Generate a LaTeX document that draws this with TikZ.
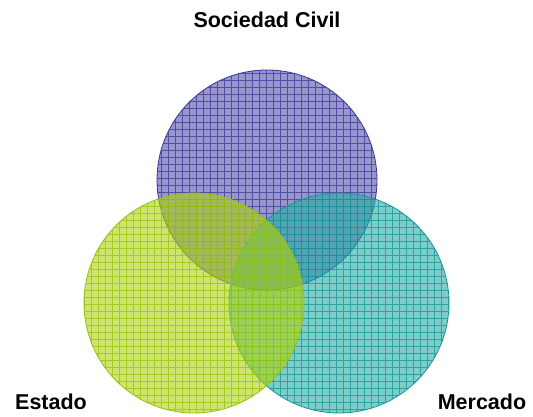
\documentclass[tikz,border=0pt]{standalone}
\usepackage{fontspec}
\setmainfont{Liberation Sans}
\definecolor{civilfill}{RGB}{83,80,172}
\definecolor{civilline}{RGB}{55,55,150}
\definecolor{estadofill}{RGB}{172,210,13}
\definecolor{estadoline}{RGB}{150,195,10}
\definecolor{mercadofill}{RGB}{38,172,163}
\definecolor{mercadoline}{RGB}{20,150,150}
\tikzset{
  sector/.style={font=\fontsize{21.5}{25}\selectfont\bfseries},
}

\begin{document}
\begin{tikzpicture}[x=1pt,y=1pt]
\useasboundingbox (0,0) rectangle (533,416);
\coordinate (civil) at (267,236);
\coordinate (estado) at (194,113);
\coordinate (mercado) at (339,113);
\foreach \c/\f/\l in {civil/civilfill/civilline, mercado/mercadofill/mercadoline, estado/estadofill/estadoline}{
  \begin{scope}
    \clip (\c) circle[radius=110];
    \fill[\f, fill opacity=0.6] (\c) circle[radius=110];
    \draw[\l, step=7, line width=0.6pt, draw opacity=0.75] ([shift={(-112,-112)}]\c) grid ([shift={(112,112)}]\c);
  \end{scope}
  \draw[\l, line width=0.8pt] (\c) circle[radius=110];
}
\node[sector] (civillabel) at (267,396) {Sociedad Civil};
\node[sector] (estadolabel) at (51,14) {Estado};
\node[sector] (mercadolabel) at (482,14) {Mercado};
\end{tikzpicture}
\end{document}
